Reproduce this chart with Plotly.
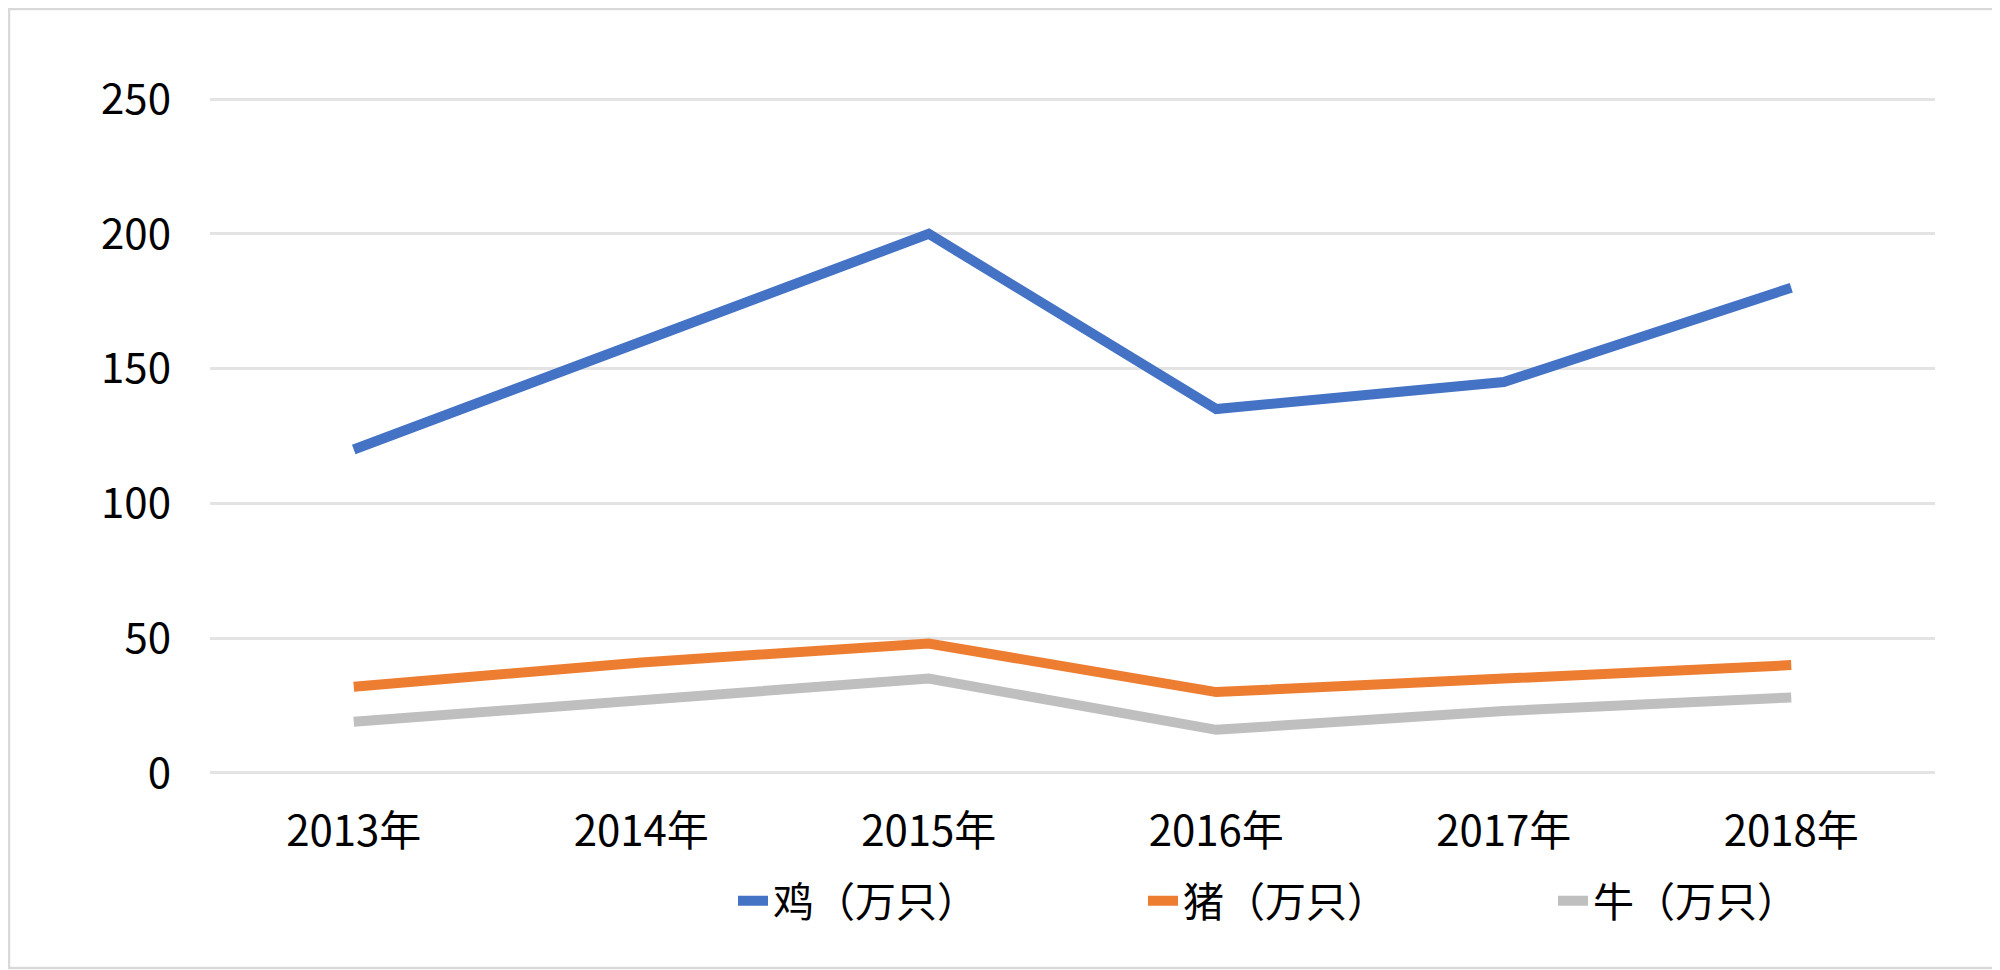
import plotly.graph_objects as go

categories = ["2013年", "2014年", "2015年", "2016年", "2017年", "2018年"]
chicken = [120, 160, 200, 135, 145, 180]
pig = [32, 41, 48, 30, 35, 40]
cattle = [19, 27, 35, 16, 23, 28]
series_names = ["鸡（万只）", "猪（万只）", "牛（万只）"]
colors = ["#4472C4", "#ED7D31", "#BFBFBF"]
y_ticks = [0, 50, 100, 150, 200, 250]

FONT = "Noto Sans CJK SC"
# the page body adds an 8px offset, so the figure is sized to fit the window
W, H = 1992, 962
ML, MR, MT, MB = 202, 65, 90, 196

fig = go.Figure()
for name, vals, col in zip(series_names, [chicken, pig, cattle], colors):
    fig.add_trace(go.Scatter(
        x=categories, y=vals, name=name, mode="lines",
        line=dict(color=col, width=10),
    ))

pw = W - ML - MR
ph = H - MT - MB
# outer light border of the chart area
fig.add_shape(type="rect", xref="paper", yref="paper",
              x0=(1 - ML) / pw, x1=(W - 2 - ML) / pw,
              y0=-(H - 2 - MT - ph) / ph, y1=1 + (MT - 1) / ph,
              line=dict(color="#D9D9D9", width=2.5), fillcolor="rgba(0,0,0,0)",
              layer="below")

fig.update_layout(
    width=W, height=H,
    margin=dict(l=ML, r=MR, t=MT, b=MB, pad=0, autoexpand=False),
    paper_bgcolor="white", plot_bgcolor="white",
    font=dict(family=FONT, size=42, color="#000000"),
    showlegend=True,
    legend=dict(
        orientation="h", xref="container", yref="container",
        x=(733 - 8) / W, xanchor="left", y=(H - (901 - 8)) / H, yanchor="middle",
        font=dict(family=FONT, size=41, color="#000000"),
        entrywidth=365, entrywidthmode="pixels",
        bgcolor="rgba(0,0,0,0)", itemwidth=30,
    ),
    xaxis=dict(
        type="category", categoryorder="array", categoryarray=categories,
        range=[-0.5, 5.5], showgrid=False, zeroline=False, showline=False,
        ticks="", tickfont=dict(family=FONT, size=42, color="#000000"),
        ticklabelstandoff=29,
    ),
    yaxis=dict(
        range=[-0.4, 250.4], tickvals=y_ticks, showgrid=True,
        gridcolor="#E3E3E3", gridwidth=2.5, zeroline=False, showline=False,
        ticks="", tickfont=dict(family=FONT, size=42, color="#000000"),
        ticklabelstandoff=38,
    ),
)

fig.write_html("out.html")
